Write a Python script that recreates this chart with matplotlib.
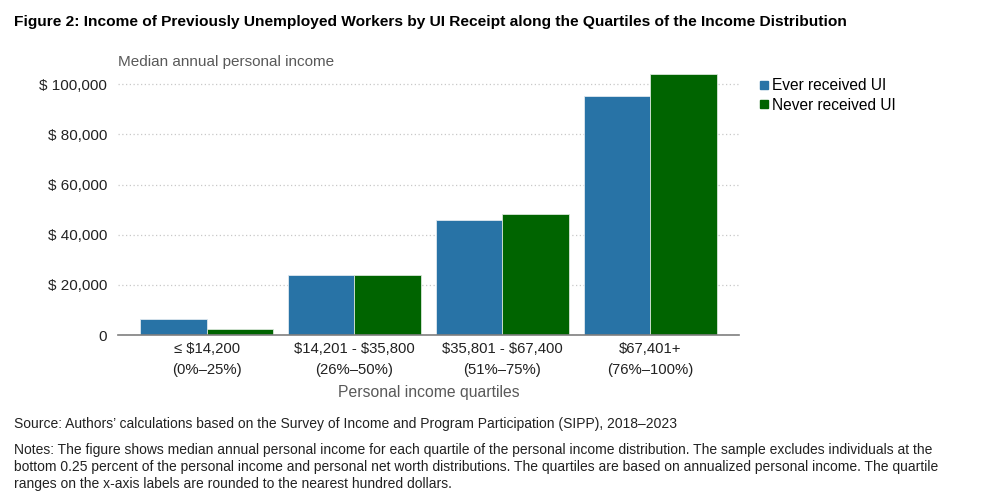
import numpy as np
import matplotlib
matplotlib.use('Agg')
import matplotlib.pyplot as plt
from matplotlib.lines import Line2D

plt.rcParams['font.family'] = ['Liberation Sans', 'DejaVu Sans']
plt.rcParams['text.parse_math'] = False

quartiles = ['\u2264 $14,200\n(0%\u201325%)',
             '$14,201 - $35,800\n(26%\u201350%)',
             '$35,801 - $67,400\n(51%\u201375%)',
             '$67,401+\n(76%\u2013100%)']
ever_ui = [6500, 24100, 45700, 95400]
never_ui = [2300, 23900, 48400, 104200]
series_names = ['Ever received UI', 'Never received UI']
yticks = [0, 20000, 40000, 60000, 80000, 100000]

blue = '#2873a6'
green = '#006400'

fig = plt.figure(figsize=(9.91, 4.98), dpi=100)
ax = fig.add_axes([0.1191, 0.3273, 0.6263, 0.5335])

x = np.arange(len(quartiles))
w = 0.45
ax.bar(x - w / 2, ever_ui, w, color=blue, edgecolor='#dfe8ef', linewidth=0.6, zorder=3)
ax.bar(x + w / 2, never_ui, w, color=green, edgecolor='#d8e6d8', linewidth=0.6, zorder=3)

ax.set_xlim(-0.6, 3.6)
ax.set_ylim(0, 106000)
ax.set_yticks(yticks)
ax.set_yticklabels(['0' if v == 0 else '$ {:,}'.format(v) for v in yticks], fontsize=11)
ax.set_xticks(x)
ax.set_xticklabels(quartiles, linespacing=1.66, fontsize=10.7)
ax.tick_params(axis='both', length=0, colors='#222222')
ax.tick_params(axis='y', pad=8)
ax.tick_params(axis='x', pad=4.8)

ax.grid(axis='y', linestyle=(0, (1, 2)), color='#c8c8c8', linewidth=0.9, zorder=0)
for s in ['top', 'right', 'left']:
    ax.spines[s].set_visible(False)
ax.spines['bottom'].set_color('#7f7f7f')
ax.spines['bottom'].set_linewidth(1.2)
ax.spines['bottom'].set_zorder(4)

ax.set_xlabel('Personal income quartiles', fontsize=11.3, color='#595959', labelpad=5.5)
fig.text(0.119, 0.8755, 'Median annual personal income', fontsize=11, color='#595959',
         ha='left', va='center')

handles = [Line2D([], [], marker='s', linestyle='none', markersize=6, color=c)
           for c in [blue, green]]
fig.legend(handles, series_names, loc='upper left', bbox_to_anchor=(0.758, 1 - 72 / 498),
           frameon=False, fontsize=11.2, handletextpad=0.15, labelspacing=0.3,
           handlelength=0.8, borderaxespad=0)

fig.text(0.0141, 1 - 22 / 498, 'Figure 2: Income of Previously Unemployed Workers by UI Receipt along the '
         'Quartiles of the Income Distribution', fontsize=11.15, fontweight='bold',
         ha='left', va='center')

fig.text(0.0141, 1 - 424 / 498, 'Source: Authors\u2019 calculations based on the Survey of Income and '
         'Program Participation (SIPP), 2018\u20132023', fontsize=10, ha='left', va='center',
         color='#222222')
notes = ('Notes: The figure shows median annual personal income for each quartile of the personal '
         'income distribution. The sample excludes individuals at the\n'
         'bottom 0.25 percent of the personal income and personal net worth distributions. The '
         'quartiles are based on annualized personal income. The quartile\n'
         'ranges on the x-axis labels are rounded to the nearest hundred dollars.')
fig.text(0.0141, 1 - 443 / 498, notes, fontsize=10, ha='left', va='top', linespacing=1.26,
         color='#222222')

fig.savefig('out.png', dpi=100)
